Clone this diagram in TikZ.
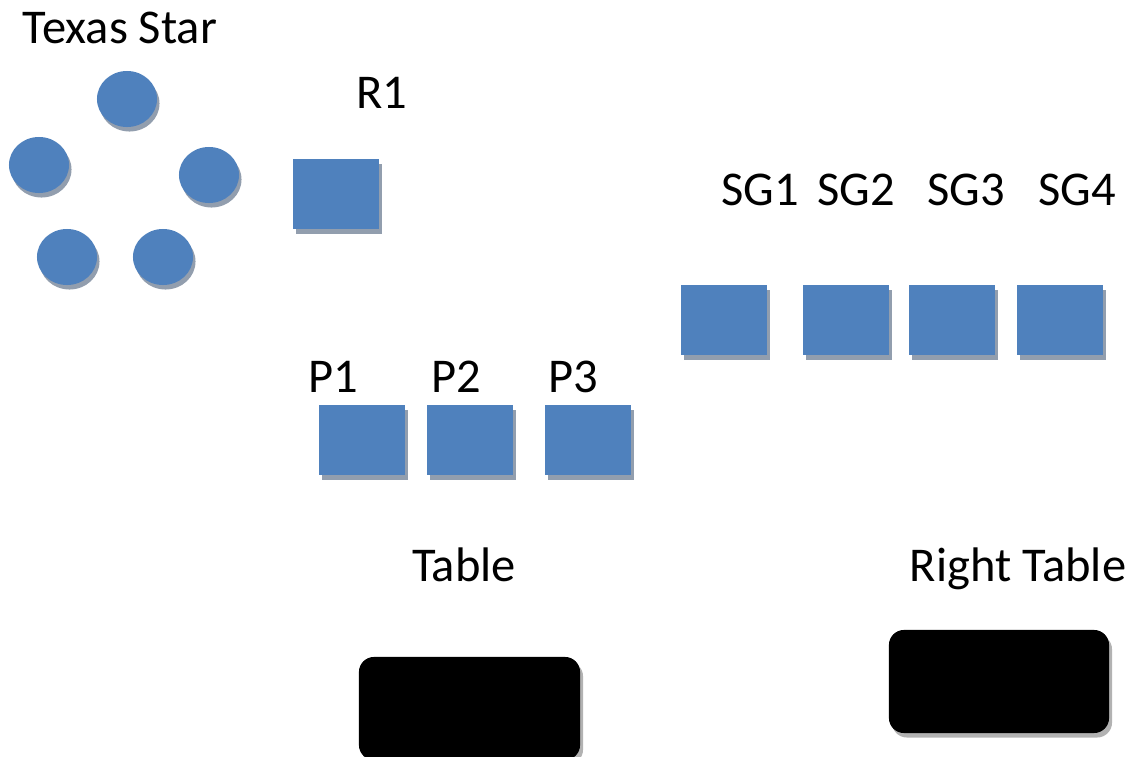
\documentclass[tikz,border=0pt]{standalone}
\usepackage{fontspec}
\setmainfont{Carlito}
\usetikzlibrary{shapes.geometric, shadows}
\definecolor{seatblue}{RGB}{79,129,189}
\definecolor{seatshade}{RGB}{146,158,174}
\definecolor{tableshade}{RGB}{178,178,178}

\begin{document}
\begin{tikzpicture}[x=0.01cm, y=-0.01cm]
        % Define block styles
        \tikzstyle{roundseat} = [ellipse, fill=seatblue, minimum width=0.6cm, minimum height=0.56cm, inner sep=0pt, drop shadow={shadow xshift=0.025cm, shadow yshift=-0.045cm, fill=seatshade, opacity=1}]
        \tikzstyle{squareseat} = [rectangle, fill=seatblue, minimum width=0.86cm, minimum height=0.7cm, inner sep=0pt, drop shadow={shadow xshift=0.03cm, shadow yshift=-0.05cm, fill=seatshade, opacity=1}]
        \tikzstyle{tablebox} = [rectangle, fill=black, rounded corners=0.15cm, minimum width=2.2cm, minimum height=1.03cm, inner sep=0pt, drop shadow={shadow xshift=0.03cm, shadow yshift=-0.045cm, fill=tableshade, opacity=1}]
        \tikzstyle{tag} = [anchor=base, inner sep=0pt, font=\fontsize{13.8}{16}\selectfont]

        \useasboundingbox (0,0) rectangle (1135,757);

        % Texas Star
        \node [tag] (lTexas) at (120,43) {Texas Star};
        \node [roundseat] (T1) at (127,99) {};
        \node [roundseat] (T2) at (39,165) {};
        \node [roundseat] (T3) at (209,175) {};
        \node [roundseat] (T4) at (67,257) {};
        \node [roundseat] (T5) at (163,257) {};

        % R1
        \node [tag] (lR1) at (382,108) {R1};
        \node [squareseat] (R1) at (336,194) {};

        % SG seats
        \node [tag] (lSG1) at (760,205) {SG1};
        \node [tag] (lSG2) at (856,205) {SG2};
        \node [tag] (lSG3) at (966,205) {SG3};
        \node [tag] (lSG4) at (1077,205) {SG4};
        \node [squareseat] (SG1) at (724,320) {};
        \node [squareseat] (SG2) at (846,320) {};
        \node [squareseat] (SG3) at (952,320) {};
        \node [squareseat] (SG4) at (1060,320) {};

        % P seats
        \node [tag] (lP1) at (333,392) {P1};
        \node [tag] (lP2) at (456,392) {P2};
        \node [tag] (lP3) at (573,392) {P3};
        \node [squareseat] (P1) at (362,440) {};
        \node [squareseat] (P2) at (470,440) {};
        \node [squareseat] (P3) at (588,440) {};

        % Tables
        \node [tag] (lTab) at (464,581) {Table};
        \node [tag] (lRTab) at (1018,581) {Right Table};
        \node [tablebox, minimum width=2.21cm] (Tab) at (469.5,708.5) {};
        \node [tablebox] (RTab) at (999,681.5) {};

    \end{tikzpicture}
\end{document}
